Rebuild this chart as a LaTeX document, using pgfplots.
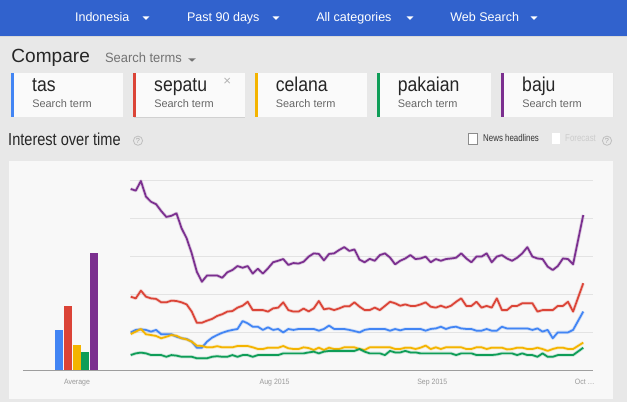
\documentclass[border=0pt]{standalone}
\usepackage{pgfplots}
\usepackage{pgfplotstable}
\usepackage{fontspec}
\setmainfont{Liberation Sans}
\pgfplotsset{compat=1.18}

\definecolor{hdr}{HTML}{3162CD}
\definecolor{pagebg}{HTML}{E8E8E8}
\definecolor{panel}{HTML}{F8F8F8}
\definecolor{cardbg}{HTML}{FAFAFA}
\definecolor{tblue}{HTML}{4285F4}
\definecolor{tred}{HTML}{DB4437}
\definecolor{tyellow}{HTML}{F4B400}
\definecolor{tgreen}{HTML}{0F9D58}
\definecolor{tpurple}{HTML}{7B2F8F}
\definecolor{gridgrey}{HTML}{E3E3E3}
\definecolor{axgrey}{HTML}{9E9E9E}
\definecolor{tickgrey}{HTML}{9A9A9A}

\newcommand\fs[1]{\fontsize{#1}{#1}\selectfont}

% daily interest, Past 90 days (day 0 = early July 2015)
\pgfplotstableread{
day tas sepatu celana pakaian baju
0 19.9 38.8 19.0 7.9 95.8
1 21.2 37.9 20.3 8.8 94.9
2 21.5 42.0 21.7 9.2 100
3 21.2 38.8 18.9 8.8 91.7
4 20.3 37.9 18.5 7.9 89.0
5 21.2 37.6 18.0 7.9 87.7
6 18.9 35.8 16.8 7.9 84.1
7 18.9 35.8 17.6 7.0 81.0
8 18.9 36.7 18.5 7.9 81.6
9 17.6 36.5 18.1 7.6 82.9
10 16.8 35.8 16.8 7.0 75.0
11 16.4 34.7 16.2 7.0 69.7
12 15.0 30.9 15.0 7.0 61.7
13 11.8 25.0 12.9 6.2 52.0
14 11.8 25.0 12.7 6.2 46.7
15 15.0 26.1 12.0 6.2 50.0
16 17.1 27.0 12.0 7.0 50.0
17 18.5 28.6 12.6 7.3 50.0
18 19.7 29.5 12.0 7.0 48.8
19 20.6 30.9 12.0 7.0 51.7
20 21.2 31.2 12.0 7.9 52.9
21 21.7 33.0 12.7 7.0 55.0
22 25.9 34.0 12.7 7.9 54.1
23 24.7 36.1 12.7 7.9 55.0
24 22.9 31.7 12.0 7.0 51.0
25 22.9 31.7 11.1 7.9 53.6
26 21.2 31.7 11.1 7.9 51.0
27 22.6 30.9 11.8 7.9 53.8
28 21.2 32.6 11.8 7.9 57.0
29 21.7 33.0 11.8 7.9 57.8
30 19.9 35.8 12.7 8.8 58.7
31 21.7 31.7 11.5 8.8 55.6
32 21.2 30.9 11.1 8.8 56.6
33 21.7 30.9 11.1 8.8 56.3
34 21.7 32.5 12.0 8.8 57.3
35 21.7 31.0 11.6 9.3 60.0
36 21.7 32.6 10.6 9.7 61.7
37 20.8 36.5 11.8 8.8 61.4
38 21.7 32.1 10.6 9.7 58.0
39 23.5 32.6 11.8 10.1 61.4
40 21.7 31.7 11.1 10.1 61.7
41 21.7 32.6 11.1 10.1 63.5
42 21.7 33.7 12.0 10.1 65.0
43 21.2 33.7 12.0 10.1 63.0
44 20.6 35.8 12.0 10.1 63.8
45 19.9 33.5 11.1 11.1 58.4
46 21.2 31.7 10.6 9.7 57.0
47 21.7 31.7 12.0 8.8 58.8
48 21.7 33.0 12.0 8.8 57.8
49 21.7 31.7 12.0 8.8 60.8
50 21.7 33.9 12.0 7.9 61.7
51 20.8 36.1 12.0 10.1 59.5
52 21.7 35.3 11.1 9.3 55.9
53 21.0 34.0 11.1 9.3 57.8
54 21.7 34.7 11.8 10.1 59.0
55 21.7 33.9 11.8 9.3 60.8
56 21.7 33.9 11.1 9.3 58.7
57 21.7 34.7 11.8 8.8 59.0
58 20.8 35.8 12.9 8.8 60.0
59 21.7 33.5 11.1 8.8 57.0
60 22.0 33.0 12.0 8.8 58.7
61 22.9 34.0 11.1 8.8 57.8
62 21.7 33.0 12.0 8.8 58.7
63 22.6 34.0 12.0 8.8 59.0
64 22.9 36.1 12.0 7.9 59.4
65 22.0 37.9 12.0 8.8 61.7
66 21.7 33.9 11.1 8.8 59.0
67 21.7 33.9 11.1 8.8 57.0
68 20.8 36.1 12.0 7.9 60.0
69 20.8 33.0 12.0 7.9 60.0
70 21.7 33.9 11.1 7.9 61.7
71 20.8 33.0 11.8 7.9 57.0
72 20.8 37.9 11.8 8.2 60.0
73 22.9 31.7 11.8 8.8 60.8
74 22.0 31.7 10.9 8.8 59.0
75 22.0 33.9 11.1 8.8 57.8
76 22.0 33.9 11.8 7.9 59.4
77 22.0 35.3 11.8 8.8 61.7
78 22.0 35.3 11.1 7.9 65.0
79 21.2 35.3 11.1 7.9 60.0
80 22.0 30.9 11.8 7.0 59.0
81 20.3 31.7 11.1 8.8 58.7
82 21.2 31.7 10.1 7.0 54.7
83 16.8 31.7 11.1 7.0 52.9
84 19.9 33.9 11.8 7.9 55.0
85 19.9 33.9 11.8 7.9 59.0
86 19.9 36.1 11.1 7.9 58.7
87 21.2 30.9 11.1 7.9 55.9
89 30.9 45.9 14.5 11.8 82.0
}\trends

\pgfplotsset{
  trendaxis/.style={
    scale only axis,
    height=141.75pt,
    ymin=0, ymax=100,
    axis line style={draw=none},
    major tick length=0pt,
    tick style={draw=none},
    clip=false,
    xticklabel style={font=\fs{5.8}, text=tickgrey, xscale=0.9, yshift=-3pt},
    yticklabels={},
    extra y ticks={0},
    extra y tick labels={},
    extra y tick style={grid=major, major grid style={draw=axgrey, line width=0.75pt}},
  },
  trendline/.style={color=#1, line width=1.3pt, line join=round,
    preaction={draw=#1, line width=2.5pt, opacity=0.22}},
  avgbar/.style={ybar, bar width=6pt, bar shift=0pt, fill=#1, draw=none},
}

\begin{document}
\begin{tikzpicture}
\begin{scope}[x=0.75pt, y=-0.75pt]
  % page and header
  \fill[pagebg] (0,0) rectangle (627,402);
  \fill[hdr] (0,0) rectangle (627,36);
  \fill[black!15] (0,36) rectangle (627,37.5);
  \foreach \t/\xx/\ax in {Indonesia/74.8/146, Past 90 days/186.8/276, All categories/316/410, Web Search/450/534} {
    \node[anchor=base west, inner sep=0, text=white, font=\fs{9.4}] at (\xx,21.7) {\t};
    \fill[white] (\ax-3.4,16.5) -- (\ax+3.4,16.5) -- (\ax,20) -- cycle;
  }
  % compare row
  \node[anchor=base west, inner sep=0, text=black!85, font=\fs{14.3}] at (11.2,62.7) {Compare};
  \node[anchor=base west, inner sep=0, text=black!55, font=\fs{10.1}, xscale=0.96] at (104.8,62.3) {Search terms};
  \fill[black!55] (188.2,58.3) -- (195.8,58.3) -- (192,61.7) -- cycle;
  % term cards
  \foreach \xs/\xe/\c/\t in {11.2/122.8/tblue/tas, 133.2/244.8/tred/sepatu, 254.8/366.8/tyellow/celana, 376.8/490.8/tgreen/pakaian, 501.2/613.2/tpurple/baju} {
    \fill[black!10] (\xs+0.6,73.5) rectangle (\xe+0.6,117.5);
    \fill[cardbg] (\xs,72.7) rectangle (\xe,116.7);
    \fill[\c] (\xs,72.7) rectangle (\xs+3,116.7);
    \node[anchor=base west, inner sep=0, text=black!85, font=\fs{15}, xscale=0.88] at (\xs+20.8,91.7) {\t};
    \node[anchor=base west, inner sep=0, text=black!60, font=\fs{8.2}] at (\xs+20.8,107.7) {Search term};
  }
  \fill[black!18] (133.8,116.7) rectangle (245.4,118.4);
  \node[inner sep=0, text=black!30, font=\fs{10}] at (227.2,81.7) {×};
  % interest over time row
  \node[anchor=base west, inner sep=0, text=black!85, font=\fs{13}, xscale=0.84] at (8,145.7) {Interest over time};
  \draw[black!25, line width=0.6pt] (138,140.7) circle (4.6);
  \node[inner sep=0, text=black!35, font=\fs{5.5}] at (138,140.7) {?};
  \draw[black!45, fill=white, line width=0.5pt] (468.5,133.5) rectangle (477.5,144);
  \node[anchor=base west, inner sep=0, text=black!80, font=\fs{7.4}, xscale=0.8] at (483,141.7) {News headlines};
  \fill[white] (552,133.5) rectangle (560,144);
  \node[anchor=base west, inner sep=0, text=black!20, font=\fs{7.4}, xscale=0.8] at (565,141.7) {Forecast};
  \draw[black!25, line width=0.6pt] (607,140.7) circle (4.6);
  \node[inner sep=0, text=black!35, font=\fs{5.5}] at (607,140.7) {?};
  % chart panel
  \fill[panel] (9,161) rectangle (613,399);
  \coordinate (barsw) at (23,370);
  \coordinate (linesw) at (130,370);
\end{scope}

% average bars
\begin{axis}[trendaxis,
  at={(barsw)}, anchor=south west,
  width=80.25pt,
  xmin=23, xmax=130,
  ytick=\empty,
  xtick={77}, xticklabels={Average},
]
\addplot[avgbar=tblue] coordinates {(59,21.2)};
\addplot[avgbar=tred] coordinates {(68,34.0)};
\addplot[avgbar=tyellow] coordinates {(77,13.4)};
\addplot[avgbar=tgreen] coordinates {(85.3,9.5)};
\addplot[avgbar=tpurple] coordinates {(94,61.9)};
\end{axis}

% interest over time
\begin{axis}[trendaxis,
  at={(linesw)}, anchor=south west,
  width=347.25pt,
  xmin=-0.14, xmax=90.92,
  ytick={20,40,60,80,100},
  ymajorgrids,
  major grid style={draw=gridgrey, line width=0.75pt},
  xtick={28.3,59.3,89.3},
  xticklabels={Aug 2015, Sep 2015, {Oct \ldots}},
]
\addplot[trendline=tblue] table[x=day, y=tas] {\trends};
\addplot[trendline=tred] table[x=day, y=sepatu] {\trends};
\addplot[trendline=tyellow] table[x=day, y=celana] {\trends};
\addplot[trendline=tgreen] table[x=day, y=pakaian] {\trends};
\addplot[trendline=tpurple] table[x=day, y=baju] {\trends};
\end{axis}
\end{tikzpicture}
\end{document}
